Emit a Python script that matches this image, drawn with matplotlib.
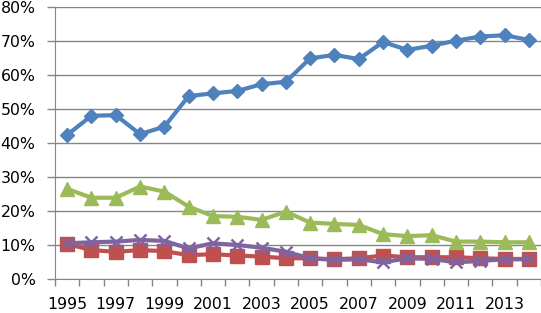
import matplotlib.pyplot as plt
from matplotlib.ticker import PercentFormatter

# --- dados (em %) ---
anos = list(range(1995, 2015))
azul = [42.4, 48.0, 48.2, 42.6, 44.8, 53.8, 54.6, 55.3, 57.3, 58.0,
        64.9, 65.9, 64.7, 69.7, 67.4, 68.6, 70.1, 71.3, 71.7, 70.3]
vermelho = [10.3, 8.5, 8.0, 8.5, 8.2, 7.0, 7.3, 6.9, 6.6, 6.1,
            6.1, 5.8, 6.1, 6.9, 6.4, 6.4, 6.4, 6.1, 5.9, 5.9]
verde = [26.5, 23.9, 23.9, 27.2, 25.7, 21.3, 18.5, 18.3, 17.4, 19.8,
         16.6, 16.2, 15.9, 13.2, 12.6, 12.9, 11.0, 11.0, 10.8, 10.8]
roxo = [10.5, 10.8, 11.0, 11.5, 11.2, 9.0, 10.5, 10.0, 9.2, 8.0,
        6.1, 5.6, 5.8, 4.9, 6.1, 5.9, 4.9, 5.3, 5.8, 5.8]
rotulos_x = [str(a) if (a - 1995) % 2 == 0 else '' for a in anos]

plt.rcParams['font.family'] = 'DejaVu Sans'

fig = plt.figure(figsize=(5.41, 3.13), dpi=100)
ax = fig.add_axes([55/541, 1 - 279/313, 486/541, 272/313])

x = list(range(len(anos)))
ax.plot(x, azul, color='#4F81BD', lw=3, marker='D', ms=7.5, zorder=3)
ax.plot(x, vermelho, color='#C0504D', lw=3, marker='s', ms=10, zorder=3)
ax.plot(x, verde, color='#9BBB59', lw=3, marker='^', ms=9.5, zorder=3)
ax.plot(x, roxo, color='#8064A2', lw=3, marker='x', ms=9, mew=1.8, zorder=3)

ax.set_xlim(-0.5, len(anos) - 0.5)
ax.set_ylim(0, 80)
ax.set_yticks(range(0, 81, 10))
ax.yaxis.set_major_formatter(PercentFormatter(decimals=0))
ax.grid(axis='y', color='#868686', lw=1)
ax.set_axisbelow(True)

# marcas do eixo x entre as categorias, rótulos no centro
ax.set_xticks([i - 0.5 for i in range(len(anos) + 1)])
ax.set_xticklabels([])
ax.set_xticks(x, minor=True)
ax.set_xticklabels(rotulos_x, minor=True)
ax.tick_params(axis='x', which='major', length=5, color='#868686', width=1)
ax.tick_params(axis='x', which='minor', length=0, pad=13, labelsize=11.3)
ax.tick_params(axis='y', length=6, color='#868686', width=1, pad=8, labelsize=11.3)

for s in ['top', 'right']:
    ax.spines[s].set_visible(False)
ax.spines['left'].set_color('#868686')
ax.spines['bottom'].set_color('#868686')

fig.savefig('out.png', dpi=100)
